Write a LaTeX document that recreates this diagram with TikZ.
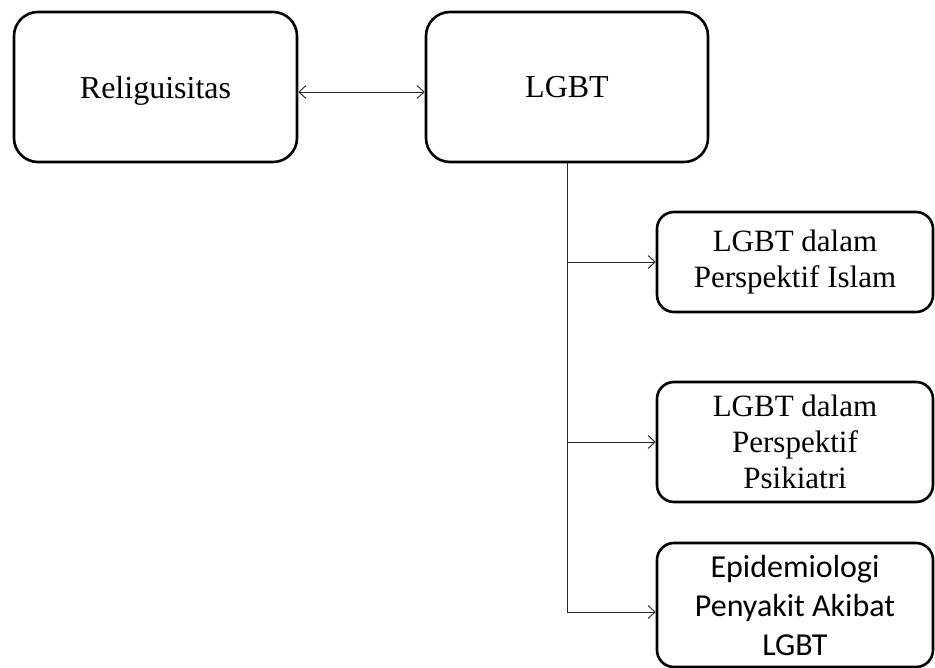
\documentclass[tikz,border=0pt]{standalone}
\usepackage{fontspec}
\setmainfont{Liberation Serif}
\newfontfamily\calfont{Carlito}
\usetikzlibrary{arrows.meta}
\begin{document}
\begin{tikzpicture}[x=1pt,y=-1pt,
  bigbox/.style={draw=black,line width=2.6pt,rounded corners=24pt,align=center,inner sep=0pt,
    font=\fontsize{32}{37}\selectfont},
  smallbox/.style={draw=black,line width=2.6pt,rounded corners=17pt,align=center,inner sep=0pt,
    minimum width=276pt,font=\fontsize{31}{36}\selectfont},
  conn/.style={line width=0.9pt,draw=black!85},
  tip/.style={-{Straight Barb[length=7pt,width=13pt,line width=0.9pt]}}
]
\useasboundingbox (0,0) rectangle (935,668);
\node[bigbox,text depth=0pt,minimum width=283pt,minimum height=150pt] (rel) at (155.5,87) {Religuisitas};
\node[bigbox,text depth=0pt,minimum width=282pt,minimum height=150pt] (lgbt) at (567,87) {LGBT};
\node[smallbox,minimum height=100pt] (b1) at (795,262) {LGBT dalam\\Perspektif Islam};
\node[smallbox,minimum height=120pt] (b2) at (795,442) {LGBT dalam\\Perspektif\\Psikiatri};
\node[smallbox,minimum height=124pt,font=\calfont\fontsize{32}{39}\selectfont] (b3) at (795,605) {Epidemiologi\\Penyakit Akibat\\LGBT};
\coordinate (end) at (567,612);
\coordinate (b3in) at (b3.west |- end);
\draw[conn,{Straight Barb[length=7pt,width=13pt,line width=0.9pt]}-{Straight Barb[length=7pt,width=13pt,line width=0.9pt]}]
  ([yshift=-5pt]rel.east) -- ([yshift=-5pt]lgbt.west);
\draw[conn] (lgbt.south) -- (end);
\draw[conn,tip] (lgbt.south |- b1.west) -- (b1.west);
\draw[conn,tip] (lgbt.south |- b2.west) -- (b2.west);
\draw[conn,tip] (end) -- (b3in);
\end{tikzpicture}
\end{document}
